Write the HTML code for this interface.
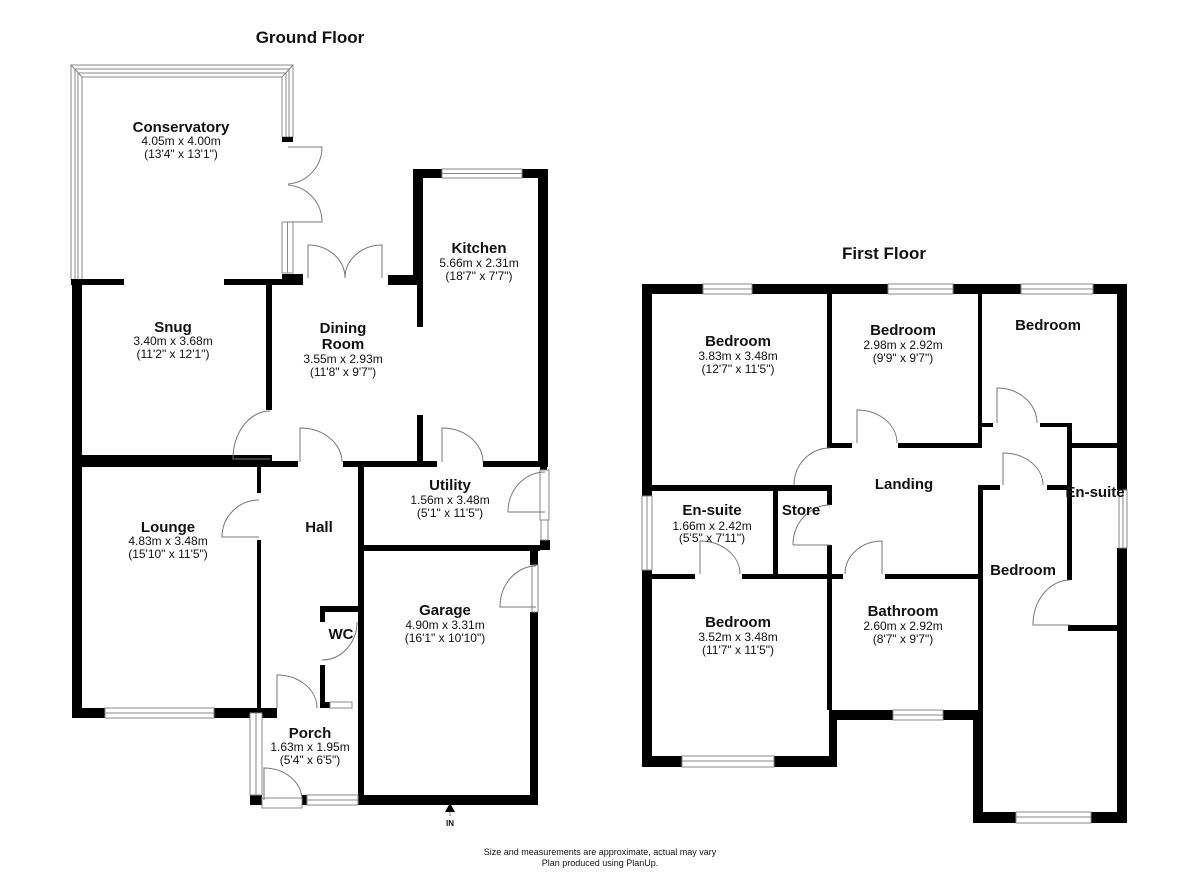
<!DOCTYPE html>
<html><head><meta charset="utf-8"><style>
html,body{margin:0;padding:0;background:#fff;}
svg{display:block;}
text{font-family:"Liberation Sans",Arial,sans-serif;fill:#111;text-anchor:middle;}
.n{font-weight:bold;font-size:15px;}
.d{font-size:12px;}
.w{fill:#000;}
.win{fill:#fff;stroke:#888;stroke-width:1;}
.ln{fill:none;stroke:#888;stroke-width:1;}
.dr{fill:none;stroke:#777;stroke-width:1;}
</style></head><body>
<svg width="1200" height="877" viewBox="0 0 1200 877" xmlns="http://www.w3.org/2000/svg">
<text x="310" y="43" style="font-weight:bold;font-size:17px">Ground Floor</text>
<text x="884" y="259" style="font-weight:bold;font-size:17px">First Floor</text>

<!-- Conservatory frame -->
<path class="win" d="M71,65 L293,65 L293,137 L282,137 L282,77 L82,77 L82,280 L71,280 Z"/>
<path class="ln" d="M75,280 L75,69 L289,69 L289,137"/>
<path class="ln" d="M78,280 L78,73 L286,73 L286,137"/>
<path class="ln" d="M71,65 L82,77 M293,65 L282,77"/>
<rect class="win" x="282" y="222" width="11" height="51"/>
<line class="ln" x1="287.5" y1="222" x2="287.5" y2="273"/>
<rect class="w" x="282" y="137" width="11" height="5"/>

<!-- Ground walls -->
<g class="w">
<rect x="71" y="279" width="53" height="6"/>
<rect x="224" y="279" width="79" height="6"/>
<rect x="282" y="274" width="21" height="11"/>
<rect x="72" y="279" width="10" height="439"/>
<rect x="266" y="285" width="6" height="125"/>
<rect x="72" y="455" width="198" height="12"/>
<rect x="266" y="455" width="6" height="12"/>
<rect x="270" y="461" width="28" height="6"/>
<rect x="343" y="461" width="94" height="6"/>
<rect x="483" y="461" width="64" height="6"/>
<rect x="413" y="169" width="29" height="9"/>
<rect x="522" y="169" width="26" height="9"/>
<rect x="413" y="169" width="10" height="116"/>
<rect x="388" y="275" width="35" height="10"/>
<rect x="417" y="285" width="6" height="42"/>
<rect x="417" y="415" width="6" height="50"/>
<rect x="538" y="169" width="10" height="298"/>
<rect x="540" y="440" width="7" height="30"/>
<rect x="540" y="540" width="10" height="10"/>
<rect x="530" y="550" width="8" height="15"/>
<rect x="530" y="612" width="8" height="193"/>
<rect x="358" y="795" width="180" height="10"/>
<rect x="358" y="467" width="6" height="338"/>
<rect x="358" y="545" width="182" height="6"/>
<rect x="72" y="708" width="33" height="10"/>
<rect x="214" y="708" width="63" height="10"/>
<rect x="257" y="467" width="4" height="26"/>
<rect x="257" y="540" width="4" height="171"/>
<rect x="320" y="606" width="44" height="6"/>
<rect x="320" y="606" width="5" height="16"/>
<rect x="320" y="665" width="5" height="43"/>
<rect x="320" y="702" width="10" height="6"/>
<rect x="250" y="795" width="12" height="10"/>
<rect x="302" y="795" width="5" height="10"/>
</g>
<g class="win">
<rect x="442" y="169" width="80" height="9"/><line x1="442" y1="173.5" x2="522" y2="173.5"/>
<rect x="540" y="470" width="9" height="50"/>
<rect x="541" y="520" width="7" height="20"/>
<rect x="532" y="565" width="6" height="47"/>
<rect x="105" y="708" width="109" height="10"/><line x1="105" y1="713" x2="214" y2="713"/>
<rect x="330" y="702" width="22" height="6"/>
<rect x="250" y="713" width="12" height="82"/><line x1="256" y1="713" x2="256" y2="795"/>
<rect x="307" y="795" width="51" height="10"/><line x1="307" y1="800" x2="358" y2="800"/>
<rect x="262" y="798" width="40" height="10"/>
</g>
<!-- Ground doors -->
<g class="dr">
<path d="M288,147 L322,147 A37,37 0 0 1 288,184"/>
<path d="M288,222 L322,222 A37,37 0 0 0 288,185"/>
<path d="M308,278 L308,245 A37,33 0 0 1 345,278"/>
<path d="M382,278 L382,245 A37,33 0 0 0 345,278"/>
<path d="M270,459 L233,459 A37,48 0 0 1 270,411"/>
<path d="M300,462 L300,428 A42,34 0 0 1 342,462"/>
<path d="M442,462 L442,428 A41,34 0 0 1 483,462"/>
<path d="M545,512 L508,512 A37,40 0 0 1 545,472"/>
<path d="M536,607 L500,607 A36,41 0 0 1 536,566"/>
<path d="M259,537 L222,537 A37,37 0 0 1 259,500"/>
<path d="M322,660 A35,38 0 0 0 357,622"/>
<path d="M277,708 L277,675 A40,33 0 0 1 317,708"/>
<path d="M264,800 L264,768 A38,32 0 0 1 302,800"/>
</g>
<polygon points="450,803 445,812 455,812" fill="#000"/>
<line x1="450" y1="812" x2="450" y2="816" stroke="#888"/>
<text x="450" y="826" style="font-size:8px;font-weight:bold">IN</text>

<!-- Ground labels -->
<text class="n" x="181" y="132">Conservatory</text>
<text class="d" x="181" y="145">4.05m x 4.00m</text>
<text class="d" x="181" y="158">(13'4" x 13'1")</text>
<text class="n" x="173" y="332">Snug</text>
<text class="d" x="173" y="345">3.40m x 3.68m</text>
<text class="d" x="173" y="358">(11'2" x 12'1")</text>
<text class="n" x="343" y="333">Dining</text>
<text class="n" x="343" y="349">Room</text>
<text class="d" x="343" y="363">3.55m x 2.93m</text>
<text class="d" x="343" y="376">(11'8" x 9'7")</text>
<text class="n" x="479" y="253">Kitchen</text>
<text class="d" x="479" y="267">5.66m x 2.31m</text>
<text class="d" x="479" y="280">(18'7" x 7'7")</text>
<text class="n" x="450" y="490">Utility</text>
<text class="d" x="450" y="504">1.56m x 3.48m</text>
<text class="d" x="450" y="517">(5'1" x 11'5")</text>
<text class="n" x="319" y="532">Hall</text>
<text class="n" x="168" y="532">Lounge</text>
<text class="d" x="168" y="545">4.83m x 3.48m</text>
<text class="d" x="168" y="558">(15'10" x 11'5")</text>
<text class="n" x="341" y="639">WC</text>
<text class="n" x="445" y="615">Garage</text>
<text class="d" x="445" y="629">4.90m x 3.31m</text>
<text class="d" x="445" y="642">(16'1" x 10'10")</text>
<text class="n" x="310" y="738">Porch</text>
<text class="d" x="310" y="751">1.63m x 1.95m</text>
<text class="d" x="310" y="764">(5'4" x 6'5")</text>

<!-- First floor walls -->
<g class="w">
<rect x="642" y="284" width="61" height="10"/>
<rect x="752" y="284" width="136" height="10"/>
<rect x="953" y="284" width="68" height="10"/>
<rect x="1093" y="284" width="34" height="10"/>
<rect x="642" y="284" width="10" height="212"/>
<rect x="642" y="570" width="10" height="197"/>
<rect x="1117" y="284" width="10" height="206"/>
<rect x="1117" y="548" width="10" height="275"/>
<rect x="973" y="812" width="43" height="11"/>
<rect x="1091" y="812" width="36" height="11"/>
<rect x="973" y="710" width="10" height="113"/>
<rect x="978" y="485" width="5" height="235"/>
<rect x="830" y="710" width="63" height="10"/>
<rect x="943" y="710" width="40" height="10"/>
<rect x="829" y="710" width="8" height="57"/>
<rect x="642" y="756" width="40" height="11"/>
<rect x="774" y="756" width="63" height="11"/>
<rect x="827" y="294" width="5" height="154"/>
<rect x="827" y="443" width="25" height="5"/>
<rect x="898" y="443" width="84" height="5"/>
<rect x="978" y="294" width="4" height="154"/>
<rect x="978" y="423" width="15" height="4"/>
<rect x="1040" y="423" width="32" height="4"/>
<rect x="1067" y="423" width="5" height="157"/>
<rect x="1072" y="443" width="45" height="5"/>
<rect x="1068" y="625" width="49" height="6"/>
<rect x="978" y="485" width="22" height="5"/>
<rect x="1047" y="485" width="21" height="5"/>
<rect x="652" y="485" width="180" height="6"/>
<rect x="827" y="491" width="5" height="14"/>
<rect x="827" y="545" width="5" height="165"/>
<rect x="773" y="491" width="5" height="83"/>
<rect x="652" y="574" width="43" height="5"/>
<rect x="742" y="574" width="101" height="5"/>
<rect x="885" y="574" width="98" height="5"/>
</g>
<g class="win">
<rect x="703" y="284" width="49" height="10"/><line x1="703" y1="289" x2="752" y2="289"/>
<rect x="888" y="284" width="65" height="10"/><line x1="888" y1="289" x2="953" y2="289"/>
<rect x="1021" y="284" width="72" height="10"/><line x1="1021" y1="289" x2="1093" y2="289"/>
<rect x="642" y="496" width="10" height="74"/><line x1="647" y1="496" x2="647" y2="570"/>
<rect x="1119" y="490" width="8" height="58"/><line x1="1123" y1="490" x2="1123" y2="548"/>
<rect x="1016" y="812" width="75" height="11"/><line x1="1016" y1="817" x2="1091" y2="817"/>
<rect x="893" y="710" width="50" height="10"/><line x1="893" y1="715" x2="943" y2="715"/>
<rect x="682" y="756" width="92" height="11"/><line x1="682" y1="761" x2="774" y2="761"/>
</g>
<g class="dr">
<path d="M857,443 L857,410 A40,33 0 0 1 897,443"/>
<path d="M997,423 L997,388 A40,35 0 0 1 1037,423"/>
<path d="M1003,485 L1003,453 A40,32 0 0 1 1043,485"/>
<path d="M794,485 A36,37 0 0 1 830,448"/>
<path d="M793,545 L830,545 M793,545 A37,40 0 0 1 830,505"/>
<path d="M700,574 L700,541 A40,33 0 0 1 740,574"/>
<path d="M882,574 L882,541 A37,33 0 0 0 845,574"/>
<path d="M1070,625 L1033,625 A37,45 0 0 1 1070,580"/>
</g>

<!-- First labels -->
<text class="n" x="738" y="346">Bedroom</text>
<text class="d" x="738" y="360">3.83m x 3.48m</text>
<text class="d" x="738" y="373">(12'7" x 11'5")</text>
<text class="n" x="903" y="335">Bedroom</text>
<text class="d" x="903" y="349">2.98m x 2.92m</text>
<text class="d" x="903" y="362">(9'9" x 9'7")</text>
<text class="n" x="1048" y="330">Bedroom</text>
<text class="n" x="712" y="515">En-suite</text>
<text class="d" x="712" y="530">1.66m x 2.42m</text>
<text class="d" x="712" y="542">(5'5" x 7'11")</text>
<text class="n" x="801" y="515">Store</text>
<text class="n" x="904" y="489">Landing</text>
<text class="n" x="1023" y="575">Bedroom</text>
<text class="n" x="1095" y="497">En-suite</text>
<text class="n" x="738" y="627">Bedroom</text>
<text class="d" x="738" y="641">3.52m x 3.48m</text>
<text class="d" x="738" y="654">(11'7" x 11'5")</text>
<text class="n" x="903" y="616">Bathroom</text>
<text class="d" x="903" y="630">2.60m x 2.92m</text>
<text class="d" x="903" y="643">(8'7" x 9'7")</text>

<text x="600" y="855" style="font-size:9px">Size and measurements are approximate, actual may vary</text>
<text x="600" y="866" style="font-size:9px">Plan produced using PlanUp.</text>
</svg>
</body></html>
